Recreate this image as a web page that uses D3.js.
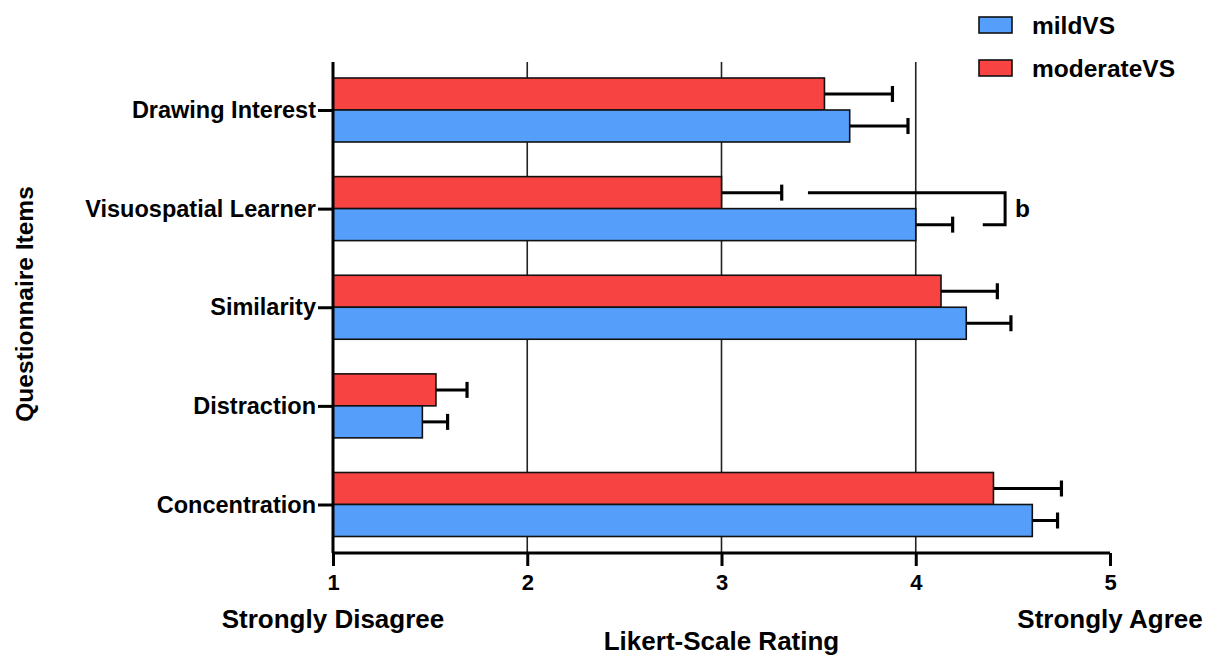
<!DOCTYPE html>
<html>
<head>
<meta charset="utf-8">
<script src="https://cdn.jsdelivr.net/npm/d3@7"></script>
<style>
  html, body { margin: 0; padding: 0; background: #fff; }
  svg { display: block; }
  text { font-family: "Liberation Sans", Arial, sans-serif; font-weight: bold; fill: #000; }
</style>
</head>
<body>
<svg id="chart" width="1217" height="657"></svg>
<script>
// ---- data ----
const categories = ["Drawing Interest", "Visuospatial Learner", "Similarity", "Distraction", "Concentration"];
const seriesNames = ["mildVS", "moderateVS"];
const mildMeans = [3.66, 4.00, 4.26, 1.46, 4.60];
const mildErr = [0.30, 0.19, 0.23, 0.13, 0.13];
const moderateMeans = [3.53, 3.00, 4.13, 1.53, 4.40];
const moderateErr = [0.35, 0.31, 0.29, 0.16, 0.35];
const xTicks = [1, 2, 3, 4, 5];
const xEndLabels = ["Strongly Disagree", "Strongly Agree"];
const xTitle = "Likert-Scale Rating";
const yTitle = "Questionnaire Items";
// significance bracket: start of red arm, right edge, start of blue arm
const sigCategory = "Visuospatial Learner";
const sigLabel = "b";
const sigX = [3.445, 4.46, 4.345];

const colors = { mildVS: "#559FFB", moderateVS: "#F84343" };

// ---- layout ----
const svg = d3.select("#chart");
const x = d3.scaleLinear().domain([1, 5]).range([333, 1110]);
const y = d3.scalePoint().domain(categories).range([110, 504.5]);
const barH = 32;
const plotTop = 62, plotBottom = 553;

// gridlines
svg.append("g").selectAll("line").data([2, 3, 4]).join("line")
  .attr("x1", d => x(d)).attr("x2", d => x(d))
  .attr("y1", plotTop).attr("y2", plotBottom)
  .attr("stroke", "#222").attr("stroke-width", 1.6);

const rows = categories.map((c, i) => ({
  c, mild: mildMeans[i], mildE: mildErr[i], mod: moderateMeans[i], modE: moderateErr[i]
}));

const g = svg.append("g");
function errBar(sel, val, err, yc) {
  sel.append("line").attr("x1", x(val)).attr("x2", x(val + err)).attr("y1", yc).attr("y2", yc)
    .attr("stroke", "#000").attr("stroke-width", 3);
  sel.append("line").attr("x1", x(val + err)).attr("x2", x(val + err)).attr("y1", yc - 8).attr("y2", yc + 8)
    .attr("stroke", "#000").attr("stroke-width", 3.2);
}
rows.forEach(r => {
  const yc = y(r.c);
  errBar(g, r.mod, r.modE, yc - barH / 2);
  errBar(g, r.mild, r.mildE, yc + barH / 2);
  g.append("rect").attr("x", x(1)).attr("y", yc - barH).attr("width", x(r.mod) - x(1)).attr("height", barH)
    .attr("fill", colors.moderateVS).attr("stroke", "#111").attr("stroke-width", 1.6);
  g.append("rect").attr("x", x(1)).attr("y", yc).attr("width", x(r.mild) - x(1)).attr("height", barH)
    .attr("fill", colors.mildVS).attr("stroke", "#111").attr("stroke-width", 1.6);
});

// significance bracket
{
  const yc = y(sigCategory);
  const yTop = yc - barH / 2, yBot = yc + barH / 2;
  svg.append("path").attr("fill", "none").attr("stroke", "#000").attr("stroke-width", 3)
    .attr("d", `M${x(sigX[0])},${yTop} H${x(sigX[1])} V${yBot} H${x(sigX[2])}`);
  svg.append("text").attr("x", x(sigX[1]) + 10).attr("y", yc).attr("dy", "0.36em")
    .attr("font-size", 24.5).text(sigLabel);
}

// y axis
const yAxis = d3.axisLeft(y).tickSize(15).tickPadding(2);
const ya = svg.append("g").attr("transform", `translate(${x(1)},0)`).call(yAxis);
ya.select(".domain").attr("d", `M0,${plotTop}V${plotBottom}`).attr("stroke", "#000").attr("stroke-width", 3);
ya.selectAll(".tick line").attr("stroke", "#000").attr("stroke-width", 3);
ya.selectAll(".tick text").attr("font-size", 23.5).attr("font-family", "Liberation Sans, Arial, sans-serif")
  .attr("font-weight", "bold").attr("fill", "#000");

// x axis
const xAxis = d3.axisBottom(x).tickValues(xTicks).tickFormat(d3.format("d")).tickSize(13).tickPadding(8);
const xa = svg.append("g").attr("transform", `translate(0,${plotBottom})`).call(xAxis);
xa.select(".domain").attr("d", `M${x(1)},0H${x(5)}`).attr("stroke", "#000").attr("stroke-width", 3);
xa.selectAll(".tick line").attr("stroke", "#000").attr("stroke-width", 3);
xa.selectAll(".tick text").attr("font-size", 22).attr("font-family", "Liberation Sans, Arial, sans-serif")
  .attr("font-weight", "bold").attr("fill", "#000");

// x end labels
svg.append("text").attr("x", x(1)).attr("y", 628).attr("text-anchor", "middle").attr("font-size", 26).text(xEndLabels[0]);
svg.append("text").attr("x", x(5)).attr("y", 628).attr("text-anchor", "middle").attr("font-size", 26).text(xEndLabels[1]);
// x title
svg.append("text").attr("x", x(3)).attr("y", 650).attr("text-anchor", "middle").attr("font-size", 26).text(xTitle);
// y title
svg.append("text").attr("transform", "translate(33,304) rotate(-90)").attr("text-anchor", "middle")
  .attr("font-size", 24.5).text(yTitle);

// legend
const legend = svg.append("g");
[["mildVS", 25], ["moderateVS", 68]].forEach(([name, cy]) => {
  legend.append("rect").attr("x", 979).attr("y", cy - 8).attr("width", 33).attr("height", 16)
    .attr("fill", colors[name]).attr("stroke", "#111").attr("stroke-width", 1.6);
  legend.append("text").attr("x", 1032).attr("y", cy).attr("dy", "0.36em").attr("font-size", 24.5).text(name);
});
</script>
</body>
</html>
